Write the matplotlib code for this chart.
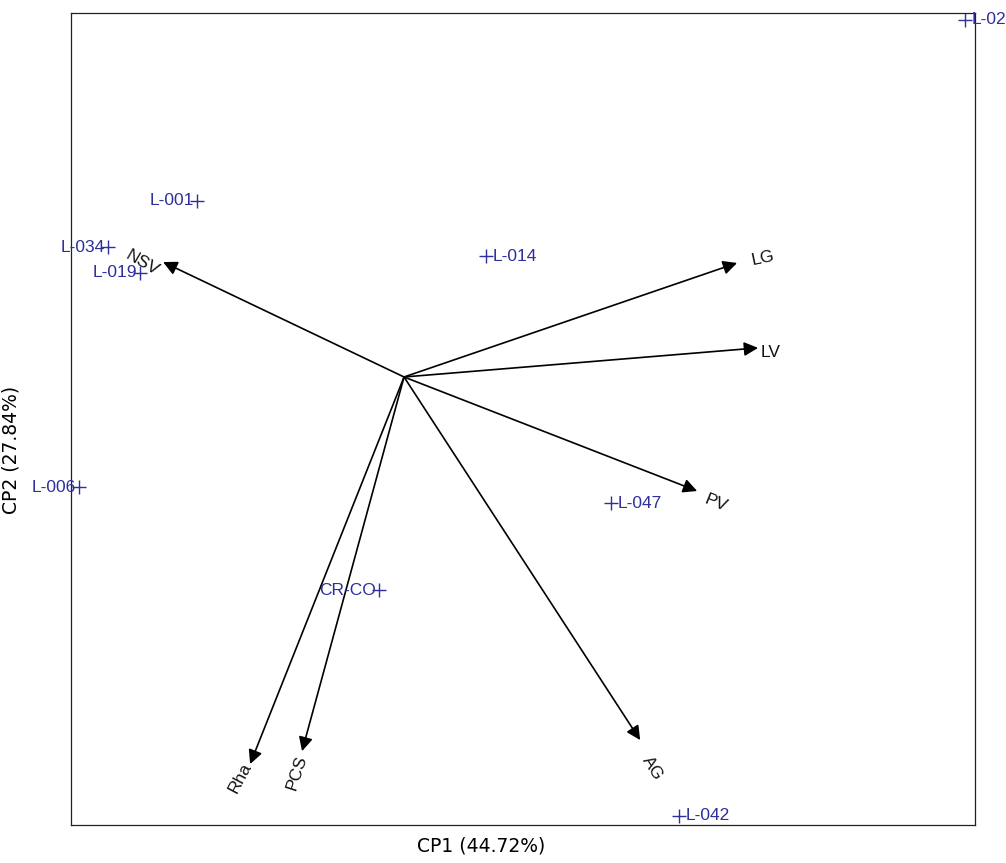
import matplotlib.pyplot as plt

# variable loadings (arrow tips)
var_names = ['NSV', 'LG', 'LV', 'PV', 'AG', 'PCS', 'Rha']
var_x = [-0.803, 1.11, 1.18, 0.977, 0.787, -0.34, -0.513]
var_y = [0.383, 0.38, 0.097, -0.38, -1.21, -1.247, -1.29]

# accession scores
obs_names = ['L-001', 'L-034', 'L-019', 'L-014', 'L-047', 'L-006', 'CR-CO', 'L-042', 'L-021']
obs_x = [-0.69, -0.987, -0.88, 0.273, 0.69, -1.083, -0.083, 0.917, 1.87]
obs_y = [0.587, 0.433, 0.347, 0.403, -0.42, -0.367, -0.71, -1.463, 1.19]

# label placement
var_lab_x = [-0.873, 1.197, 1.223, 1.04, 0.827, -0.357, -0.547]
var_lab_y = [0.38, 0.397, 0.083, -0.42, -1.303, -1.32, -1.337]
var_lab_rot = [-30, 12, 0, -22, -58, 72, 62]
obs_side = ['l', 'l', 'l', 'r', 'r', 'l', 'l', 'r', 'r']

blue = '#2e2e9c'

fig = plt.figure(figsize=(10.06, 8.63), dpi=100)
ax = fig.add_axes([71/1006, 38/863, 904/1006, 812/863])
ax.set_xlim(-1.11, 1.903)
ax.set_ylim(-1.493, 1.213)
ax.set_xticks([])
ax.set_yticks([])
for s in ax.spines.values():
    s.set_linewidth(0.9)
    s.set_color('#222222')

for name, x, y, lx, ly, r in zip(var_names, var_x, var_y, var_lab_x, var_lab_y, var_lab_rot):
    ax.annotate('', xy=(x, y), xytext=(0, 0),
                arrowprops=dict(arrowstyle='-|>', color='black', lw=1.2,
                                mutation_scale=21, shrinkA=0, shrinkB=0))
    ax.text(lx, ly, name, rotation=r, ha='center', va='center', fontsize=12.5,
            family='Liberation Sans', color='#111111', rotation_mode='anchor')

ax.plot(obs_x, obs_y, '+', color=blue, ms=10, mew=1, clip_on=False)
for name, x, y, side in zip(obs_names, obs_x, obs_y, obs_side):
    if side == 'l':
        ax.annotate(name, (x, y), xytext=(-2, 0), textcoords='offset points',
                    ha='right', va='center', fontsize=12.5, color=blue,
                    family='Liberation Sans', annotation_clip=False)
    else:
        ax.annotate(name, (x, y), xytext=(5, 0), textcoords='offset points',
                    ha='left', va='center', fontsize=12.5, color=blue,
                    family='Liberation Sans', annotation_clip=False)

fig.text(481/1006, 1 - 846/863, 'CP1 (44.72%)', ha='center', va='center', fontsize=13.5)
fig.text(11/1006, 1 - 450/863, 'CP2 (27.84%)', ha='center', va='center',
         rotation=90, fontsize=13.5)

fig.savefig('out.png', dpi=100)
